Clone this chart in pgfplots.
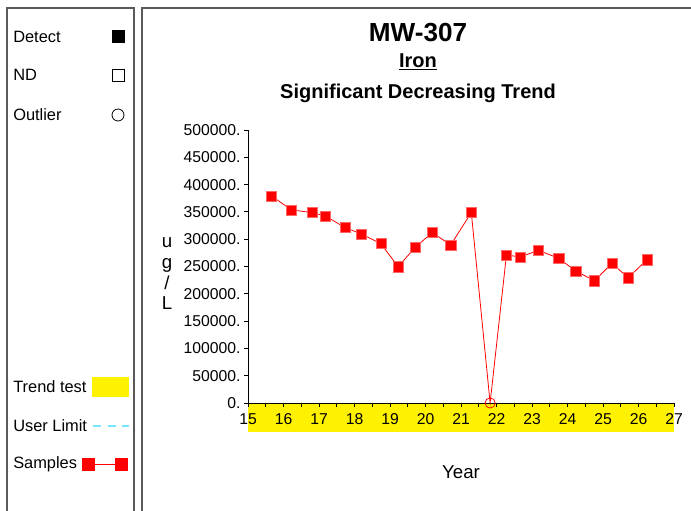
\documentclass[border=0pt]{standalone}
\usepackage{pgfplots}
\pgfplotsset{compat=1.18}
\usepackage{fontspec}
\setmainfont{Liberation Sans}
\usepackage{xcolor}
\definecolor{framegray}{RGB}{90,90,90}
\definecolor{ulcyan}{RGB}{120,230,255}
\begin{document}
\begin{tikzpicture}[x=0.75pt,y=0.75pt]
\useasboundingbox (0,0) rectangle (691,510);
\begin{scope}
\clip (0,0) rectangle (691,510);
% panel frames
\draw[framegray, line width=0.9pt] (7,-5) -- (7,502) -- (134,502) -- (134,-5);
\draw[framegray, line width=0.9pt] (142,-5) -- (142,502) -- (695,502);
% legend panel
\fontsize{12.3pt}{14pt}\selectfont
\node[anchor=west, inner sep=0] at (13,473) {Detect};
\fill[black] (111.5,466.5) rectangle (124.5,479.5);
\node[anchor=west, inner sep=0] at (13,435) {ND};
\draw[black, line width=0.6pt] (112,429) rectangle (124,441);
\node[anchor=west, inner sep=0] at (13,395) {Outlier};
\draw[black, line width=0.6pt] (118,395) circle (6);
\node[anchor=west, inner sep=0] at (13,123) {Trend test};
\fill[yellow] (92,113) rectangle (129,133);
\node[anchor=west, inner sep=0] at (13,84) {User Limit};
\draw[ulcyan, line width=1pt, dash pattern=on 6pt off 5pt] (93,84) -- (129,84);
\node[anchor=west, inner sep=0] at (13,46) {Samples};
\draw[red, line width=0.6pt] (88,46) -- (121,46);
\fill[red] (81.5,39.5) rectangle (94.5,52.5);
\fill[red] (114.5,39.5) rectangle (127.5,52.5);
% trend band
\fill[yellow] (248,78) rectangle (674,106);
% titles
\node[font=\bfseries\fontsize{19.6pt}{22pt}\selectfont, inner sep=0] at (418,477) {MW-307};
\node[font=\bfseries\fontsize{15pt}{17pt}\selectfont, inner sep=0] at (418,448) {\underline{Iron}};
\node[font=\bfseries\fontsize{15pt}{17pt}\selectfont, inner sep=0] at (418,417) {Significant Decreasing Trend};
\node[font=\fontsize{14pt}{16pt}\selectfont, inner sep=0] at (461,38) {Year};
\node[font=\fontsize{14pt}{15.5pt}\selectfont, inner sep=0, align=center] at (167,236) {u\\g\\/\\L};
\end{scope}
\begin{axis}[
  at={(186pt,80.25pt)}, anchor=origin,
  scale only axis,
  width=319.5pt, height=204.75pt,
  xmin=15, xmax=27, ymin=0, ymax=500000,
  axis x line*=bottom, axis y line*=left,
  axis line style={black, line width=0.6pt},
  xtick={15,...,27},
  minor xtick={15.5,16.5,...,26.5},
  ytick={0,50000,...,500000},
  yticklabels={0.,50000.,100000.,150000.,200000.,250000.,300000.,350000.,400000.,450000.,500000.},
  xticklabel style={font=\fontsize{11.8pt}{12pt}\selectfont, inner sep=1pt, yshift=-4pt},
  yticklabel style={font=\fontsize{11.8pt}{12pt}\selectfont, inner sep=2.5pt},
  tick align=outside,
  major tick length=3pt, minor tick length=3pt,
  tick style={black, line width=0.6pt},
  /pgf/number format/assume math mode=true,
  scaled y ticks=false,
  clip=false,
]
\addplot[red, line width=0.6pt, no marks] coordinates {
(15.66,379400) (16.22,353700) (16.80,348800) (17.18,342700) (17.73,321300)
(18.19,309700) (18.74,291900) (19.23,249700) (19.72,285800) (20.19,312100)
(20.71,289500) (21.29,348800) (21.82,0) (22.28,271100) (22.67,267400)
(23.18,279700) (23.75,265000) (24.23,241700) (24.76,224000) (25.25,255800)
(25.71,229500) (26.24,262500)
};
\addplot[only marks, mark=square*, mark size=3.8pt, mark options={fill=red, draw=red!60!white, line width=0.3pt}] coordinates {
(15.66,379400) (16.22,353700) (16.80,348800) (17.18,342700) (17.73,321300)
(18.19,309700) (18.74,291900) (19.23,249700) (19.72,285800) (20.19,312100)
(20.71,289500) (21.29,348800) (22.28,271100) (22.67,267400)
(23.18,279700) (23.75,265000) (24.23,241700) (24.76,224000) (25.25,255800)
(25.71,229500) (26.24,262500)
};
\addplot[only marks, mark=o, mark size=3.8pt, mark options={draw=red, line width=0.6pt}] coordinates {(21.82,0)};
\end{axis}
\end{tikzpicture}
\end{document}
